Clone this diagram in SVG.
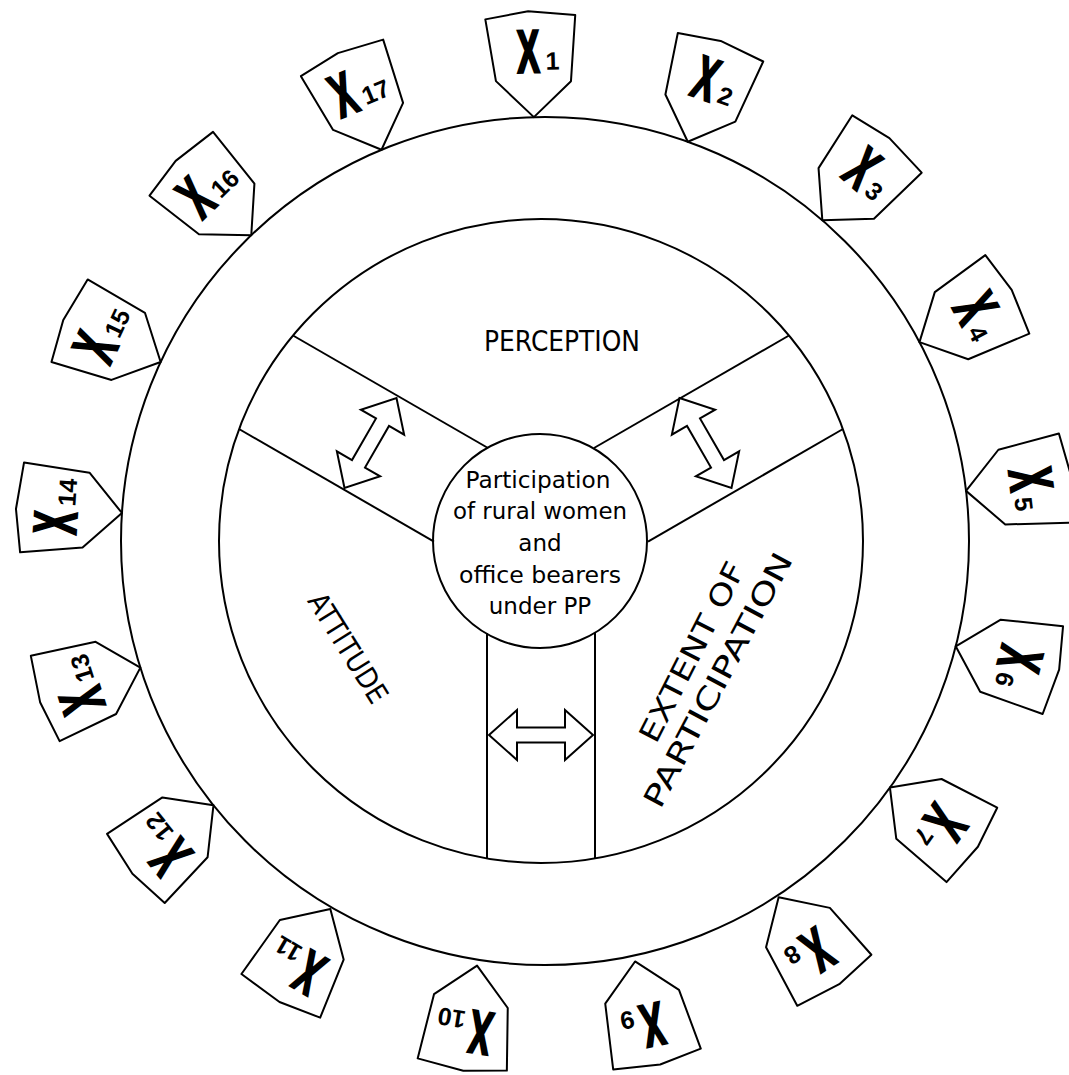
<svg xmlns="http://www.w3.org/2000/svg" xmlns:xlink="http://www.w3.org/1999/xlink" width="1069" height="1075" viewBox="0 0 1069 1075">
<style>
.ln{fill:none;stroke:#000;stroke-width:2}
.tag{fill:#fff;stroke:#000;stroke-width:2;stroke-linejoin:round}
.arr{fill:#fff;stroke:#000;stroke-width:2;stroke-linejoin:miter}
.lbl{font-family:"DejaVu Sans","Liberation Sans",sans-serif;fill:#000;text-anchor:middle}
.X{font-family:"Liberation Sans",Arial,sans-serif;font-weight:bold;font-size:60px;fill:#000;stroke:#000;stroke-width:3;text-anchor:middle}
.n{font-family:"Liberation Sans",Arial,sans-serif;font-weight:bold;font-size:25px;fill:#000}
</style>
<defs>
<polygon id="tagshape" class="tag" points="0,0 38,-35 44,-101 -3,-106 -46,-99 -37,-37"/>
<path id="dblarrow" class="arr" d="M-52,0 L-24,-25 L-24,-7.5 L24,-7.5 L24,-25 L52,0 L24,25 L24,7.5 L-24,7.5 L-24,25 Z"/>
</defs>
<rect width="1069" height="1075" fill="#fff"/>

<g id="wheel">
<circle class="ln" cx="545" cy="541" r="424"/>
<circle class="ln" cx="541" cy="541" r="322"/>
</g>

<g id="connectors">
<line class="ln" x1="488" y1="448" x2="293" y2="335.5"/>
<line class="ln" x1="434" y1="541.6" x2="239" y2="429"/>
<line class="ln" x1="594" y1="448" x2="789" y2="335.5"/>
<line class="ln" x1="648" y1="541.6" x2="843" y2="429"/>
<line class="ln" x1="487" y1="633" x2="487" y2="858"/>
<line class="ln" x1="595" y1="633" x2="595" y2="858"/>
<use xlink:href="#dblarrow" transform="translate(370.5,443) rotate(-60)"/>
<use xlink:href="#dblarrow" transform="translate(705.5,443) rotate(60)"/>
<use xlink:href="#dblarrow" transform="translate(541,735)"/>
</g>

<g id="center">
<circle class="ln" cx="540" cy="541" r="107" fill="#fff"/>
<text class="lbl" font-size="23" x="538" y="488" textLength="145" lengthAdjust="spacingAndGlyphs">Participation</text>
<text class="lbl" font-size="23" x="540" y="519" textLength="174" lengthAdjust="spacingAndGlyphs">of rural women</text>
<text class="lbl" font-size="23" x="540" y="551">and</text>
<text class="lbl" font-size="23" x="540" y="583" textLength="162" lengthAdjust="spacingAndGlyphs">office bearers</text>
<text class="lbl" font-size="23" x="540" y="614">under PP</text>
</g>

<g id="perception"><text class="lbl" font-size="28" x="562" y="351" textLength="156" lengthAdjust="spacingAndGlyphs">PERCEPTION</text></g>
<g id="attitude"><text class="lbl" font-size="29" transform="translate(348,648) rotate(58)" y="10" textLength="124" lengthAdjust="spacingAndGlyphs">ATTITUDE</text></g>
<g id="extent">
<text class="lbl" font-size="29" transform="translate(692,652) rotate(-63)" y="10" textLength="198" lengthAdjust="spacingAndGlyphs">EXTENT OF</text>
<text class="lbl" font-size="29" transform="translate(718,680) rotate(-62)" y="10" textLength="284" lengthAdjust="spacingAndGlyphs">PARTICIPATION</text>
</g>

<g id="x1" transform="translate(545,541) rotate(-1.5) translate(0,-424)"><use xlink:href="#tagshape"/><text class="X" transform="translate(-4,-45) scale(0.55,1)">X</text><text class="n" x="13" y="-47">1</text></g>
<g id="x2" transform="translate(545,541) rotate(19.68) translate(0,-424)"><use xlink:href="#tagshape"/><text class="X" transform="translate(-4,-45) scale(0.55,1)">X</text><text class="n" x="13" y="-47">2</text></g>
<g id="x3" transform="translate(545,541) rotate(40.85) translate(0,-424)"><use xlink:href="#tagshape"/><text class="X" transform="translate(-4,-45) scale(0.55,1)">X</text><text class="n" x="13" y="-47">3</text></g>
<g id="x4" transform="translate(545,541) rotate(62.03) translate(0,-424)"><use xlink:href="#tagshape"/><text class="X" transform="translate(-4,-45) scale(0.55,1)">X</text><text class="n" x="13" y="-47">4</text></g>
<g id="x5" transform="translate(545,541) rotate(83.21) translate(0,-424)"><use xlink:href="#tagshape"/><text class="X" transform="translate(-4,-45) scale(0.55,1)">X</text><text class="n" x="13" y="-47">5</text></g>
<g id="x6" transform="translate(545,541) rotate(104.38) translate(0,-424)"><use xlink:href="#tagshape"/><text class="X" transform="translate(-4,-45) scale(0.55,1)">X</text><text class="n" x="13" y="-47">6</text></g>
<g id="x7" transform="translate(545,541) rotate(125.56) translate(0,-424)"><use xlink:href="#tagshape"/><text class="X" transform="translate(-4,-45) scale(0.55,1)">X</text><text class="n" x="13" y="-47">7</text></g>
<g id="x8" transform="translate(545,541) rotate(146.74) translate(0,-426)"><use xlink:href="#tagshape"/><text class="X" transform="translate(-4,-45) scale(0.55,1)">X</text><text class="n" x="13" y="-47">8</text></g>
<g id="x9" transform="translate(545,541) rotate(167.91) translate(0,-430)"><use xlink:href="#tagshape"/><text class="X" transform="translate(-4,-45) scale(0.55,1)">X</text><text class="n" x="13" y="-47">9</text></g>
<g id="x10" transform="translate(545,541) rotate(189.09) translate(0,-430)"><use xlink:href="#tagshape"/><text class="X" transform="translate(-14,-45) scale(0.55,1)">X</text><text class="n" x="3" y="-47">10</text></g>
<g id="x11" transform="translate(545,541) rotate(210.26) translate(0,-426)"><use xlink:href="#tagshape"/><text class="X" transform="translate(-14,-45) scale(0.55,1)">X</text><text class="n" x="3" y="-47">11</text></g>
<g id="x12" transform="translate(545,541) rotate(231.44) translate(0,-424)"><use xlink:href="#tagshape"/><text class="X" transform="translate(-14,-45) scale(0.55,1)">X</text><text class="n" x="3" y="-47">12</text></g>
<g id="x13" transform="translate(545,541) rotate(252.62) translate(0,-424)"><use xlink:href="#tagshape"/><text class="X" transform="translate(-14,-45) scale(0.55,1)">X</text><text class="n" x="3" y="-47">13</text></g>
<g id="x14" transform="translate(545,541) rotate(273.79) translate(0,-424)"><use xlink:href="#tagshape"/><text class="X" transform="translate(-14,-45) scale(0.55,1)">X</text><text class="n" x="3" y="-47">14</text></g>
<g id="x15" transform="translate(545,541) rotate(294.97) translate(0,-424)"><use xlink:href="#tagshape"/><text class="X" transform="translate(-14,-45) scale(0.55,1)">X</text><text class="n" x="3" y="-47">15</text></g>
<g id="x16" transform="translate(545,541) rotate(316.15) translate(0,-424)"><use xlink:href="#tagshape"/><text class="X" transform="translate(-14,-45) scale(0.55,1)">X</text><text class="n" x="3" y="-47">16</text></g>
<g id="x17" transform="translate(545,541) rotate(337.32) translate(0,-424)"><use xlink:href="#tagshape"/><text class="X" transform="translate(-14,-45) scale(0.55,1)">X</text><text class="n" x="3" y="-47">17</text></g>
</svg>
